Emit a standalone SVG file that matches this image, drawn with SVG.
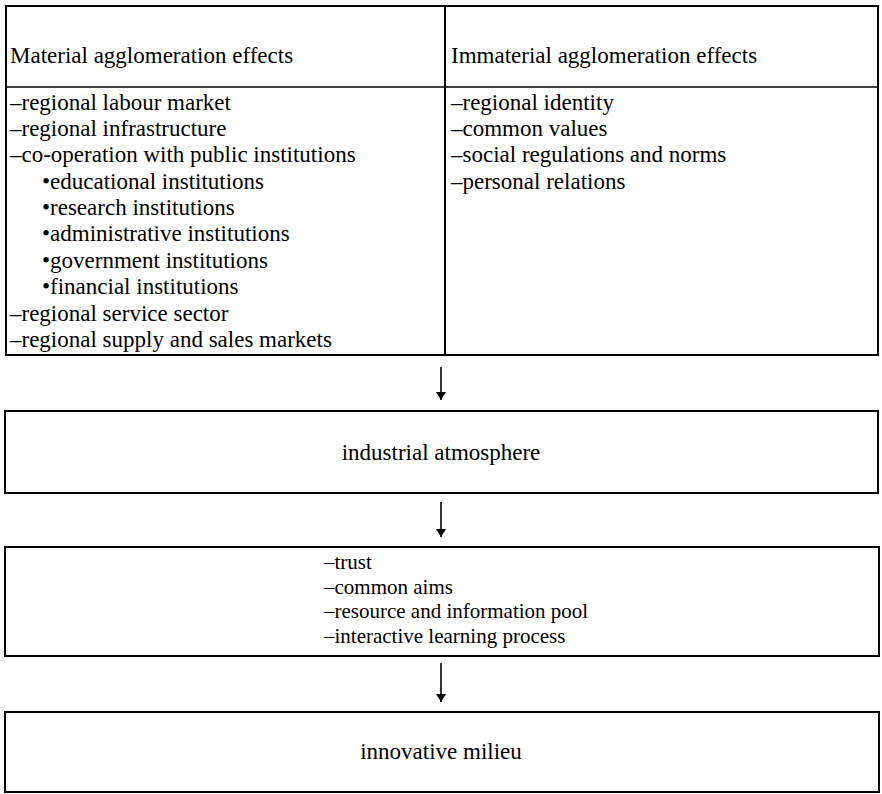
<svg xmlns="http://www.w3.org/2000/svg" width="882" height="794" viewBox="0 0 882 794">
<style>
.box{fill:none;stroke:#000;stroke-width:2}
.ln{stroke:#000;stroke-width:1.6}
.t{font-family:"Liberation Serif","Times New Roman",serif;font-size:23px;fill:#000}
.s{font-family:"Liberation Serif","Times New Roman",serif;font-size:21px;fill:#000}
.c{text-anchor:middle}
</style>
<defs>
<marker id="ah" viewBox="0 0 8 10" refX="8" refY="5" markerWidth="8" markerHeight="10" markerUnits="userSpaceOnUse" orient="auto">
<path d="M0,0 L8,5 L0,10 Z" fill="#000"/>
</marker>
</defs>
<rect width="882" height="794" fill="#fff"/>
<g id="material">
<rect class="box" x="6" y="6" width="439" height="349"/>
<line class="ln" x1="6" y1="87" x2="445" y2="87"/>
<text class="t" x="10" y="63">Material agglomeration effects</text>
<text class="t" x="10" y="110">–regional labour market</text>
<text class="t" x="10" y="136">–regional infrastructure</text>
<text class="t" x="10" y="162">–co-operation with public institutions</text>
<text class="t" x="42" y="189">•educational institutions</text>
<text class="t" x="42" y="215">•research institutions</text>
<text class="t" x="42" y="241">•administrative institutions</text>
<text class="t" x="42" y="268">•government institutions</text>
<text class="t" x="42" y="294">•financial institutions</text>
<text class="t" x="10" y="321">–regional service sector</text>
<text class="t" x="10" y="347">–regional supply and sales markets</text>
</g>
<g id="immaterial">
<rect class="box" x="445" y="6" width="433" height="349"/>
<line class="ln" x1="445" y1="87" x2="878" y2="87"/>
<text class="t" x="451" y="63">Immaterial agglomeration effects</text>
<text class="t" x="451" y="110">–regional identity</text>
<text class="t" x="451" y="136">–common values</text>
<text class="t" x="451" y="162">–social regulations and norms</text>
<text class="t" x="451" y="189">–personal relations</text>
</g>
<g id="atmosphere">
<rect class="box" x="5" y="411" width="873" height="82"/>
<text class="t c" x="441" y="460">industrial atmosphere</text>
</g>
<g id="factors">
<rect class="box" x="5" y="547" width="874" height="109"/>
<text class="s" x="324" y="569">–trust</text>
<text class="s" x="324" y="593.5">–common aims</text>
<text class="s" x="324" y="618">–resource and information pool</text>
<text class="s" x="324" y="642.5">–interactive learning process</text>
</g>
<g id="milieu">
<rect class="box" x="5" y="712" width="874" height="80"/>
<text class="t c" x="441" y="759">innovative milieu</text>
</g>
<g id="connectors">
<line class="ln" x1="441" y1="367" x2="441" y2="400" marker-end="url(#ah)"/>
<line class="ln" x1="441" y1="502" x2="441" y2="537" marker-end="url(#ah)"/>
<line class="ln" x1="441" y1="663" x2="441" y2="702" marker-end="url(#ah)"/>
</g>
</svg>
